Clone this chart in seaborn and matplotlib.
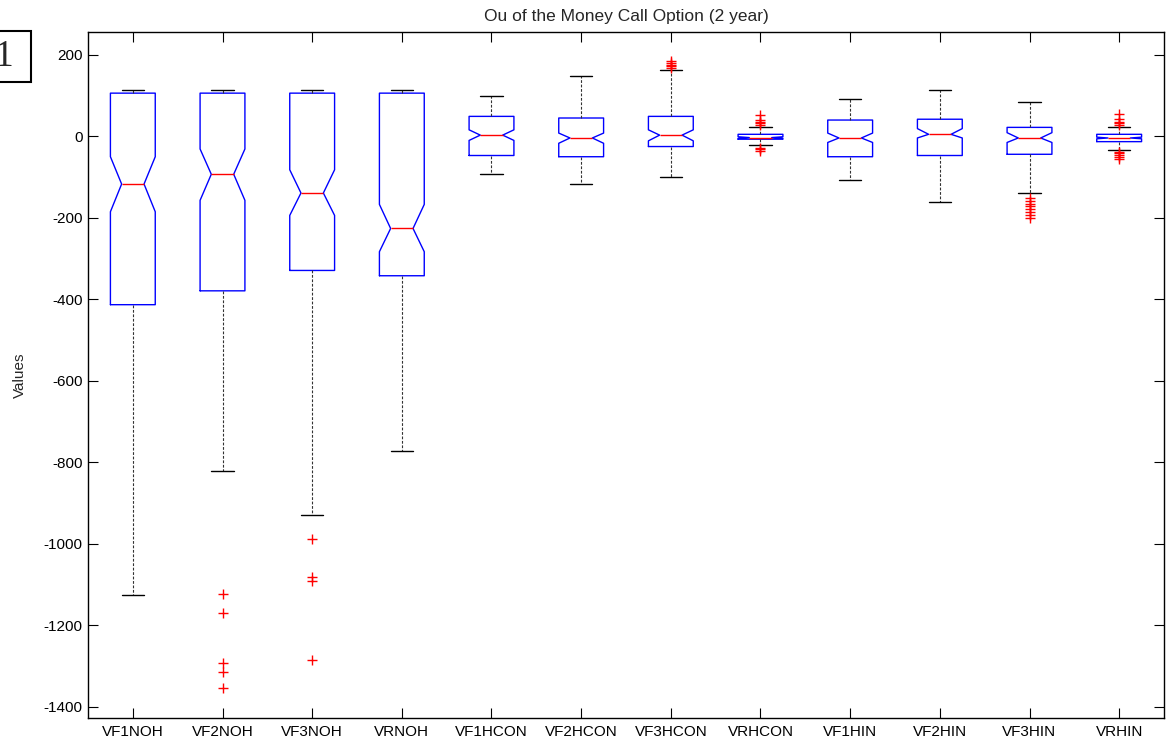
import matplotlib
matplotlib.use("Agg")
import matplotlib.pyplot as plt
from matplotlib.patches import Rectangle
import seaborn as sns

# Summary statistics per group (values in the units of the y axis)
labels = ["VF1NOH", "VF2NOH", "VF3NOH", "VRNOH", "VF1HCON", "VF2HCON",
          "VF3HCON", "VRHCON", "VF1HIN", "VF2HIN", "VF3HIN", "VRHIN"]
q3 = [106, 106, 106, 106, 49, 45, 49, 5, 40, 42, 22, 5]
medians = [-117, -93, -139, -226, 3, -4, 3, -3, -4, 5, -4, -4]
q1 = [-413, -379, -329, -342, -47, -50, -25, -7, -50, -47, -44, -13]
notch_hi = [-50, -31, -82, -167, 16, 8, 16, -1, 8, 19, 9, -2]
notch_lo = [-185, -157, -194, -283, -10, -17, -11, -5, -15, -4, -15, -6]
whisker_hi = [113, 113, 113, 113, 98, 147, 163, 22, 92, 113, 85, 24]
whisker_lo = [-1126, -821, -929, -772, -93, -117, -99, -22, -108, -161, -139, -33]
outliers = [
    [],
    [-1124, -1170, -1293, -1314, -1353],
    [-988, -1082, -1092, -1285],
    [],
    [],
    [],
    [168, 172, 176, 180, 185],
    [52, 40, 35, 32, 29, -28, -32, -36],
    [],
    [],
    [-152, -158, -165, -172, -178, -185, -192, -200],
    [55, 42, 36, 32, 29, -38, -42, -46, -50, -55],
]
yticks = [200, 0, -200, -400, -600, -800, -1000, -1200, -1400]

sns.set_theme(style="ticks")
plt.rcParams["font.family"] = ["Liberation Sans", "DejaVu Sans"]

stats = []
for i, name in enumerate(labels):
    stats.append({
        "label": name,
        "med": medians[i],
        "q1": q1[i],
        "q3": q3[i],
        "cilo": notch_lo[i],
        "cihi": notch_hi[i],
        "whislo": whisker_lo[i],
        "whishi": whisker_hi[i],
        "fliers": outliers[i],
    })

fig = plt.figure(figsize=(11.70, 7.51), dpi=100)
ax = fig.add_axes([88 / 1170, 33 / 751, 1076 / 1170, 686 / 751])
ax.set_facecolor("white")

ax.bxp(
    stats,
    positions=range(1, len(labels) + 1),
    widths=0.5,
    shownotches=True,
    showfliers=True,
    boxprops=dict(color="#0000ff", linewidth=1.0),
    medianprops=dict(color="#ff0000", linewidth=1.0),
    whiskerprops=dict(color="#333333", linewidth=0.8, linestyle=(0, (2.5, 1.5))),
    capprops=dict(color="#000000", linewidth=1.0),
    flierprops=dict(marker="+", markeredgecolor="#ff0000", markersize=7.5,
                    markeredgewidth=1.0, linestyle="none"),
)

ax.set_xlim(0.5, 12.5)
ax.set_ylim(-1427, 256)
ax.set_yticks(yticks)
ax.set_yticklabels([str(v) for v in yticks])
ax.set_xticks(range(1, len(labels) + 1))
ax.set_xticklabels(labels)

ax.tick_params(direction="in", length=7, width=0.8, top=True, right=True,
               labelsize=11, colors="black")
ax.tick_params(axis="x", pad=5)
ax.tick_params(axis="y", pad=4)
for side in ax.spines.values():
    side.set_color("black")
    side.set_linewidth(1.0)

ax.set_ylabel("Values", fontsize=11, labelpad=12)
ax.set_title("Ou of the Money Call Option (2 year)", fontsize=12.5, pad=8)

# Figure number box in the upper left corner
fig.patches.append(Rectangle((-2 / 1170, (751 - 82) / 751), 33 / 1170, 51 / 751,
                             transform=fig.transFigure, fill=False,
                             edgecolor="black", linewidth=1.5))
fig.text(4 / 1170, (751 - 57) / 751, "1", fontsize=27, ha="center", va="center",
         family=["Liberation Serif", "DejaVu Serif"])

fig.savefig("out.png", dpi=100, facecolor="white")
